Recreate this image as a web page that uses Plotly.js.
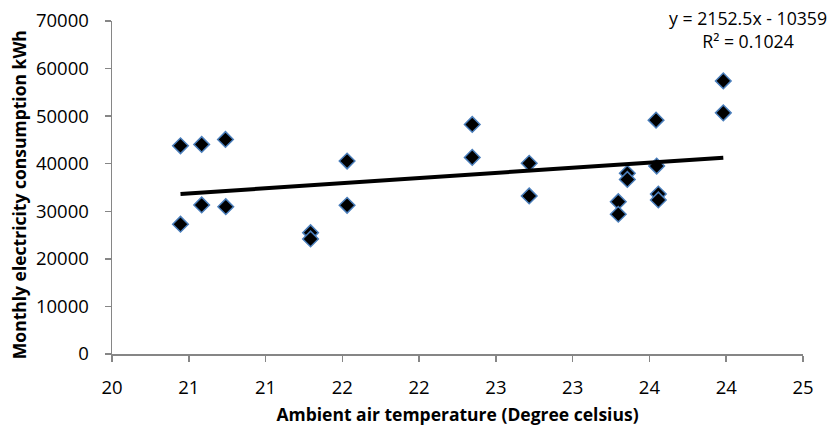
<!DOCTYPE html>
<html>
<head>
<meta charset="utf-8">
<script src="https://cdn.plot.ly/plotly-3.0.1.min.js"></script>
<style>html,body{margin:0;padding:0;background:#fff;}#chart{width:833px;height:432px;}</style>
</head>
<body>
<div id="chart"></div>
<script>
// Ambient air temperature (°C)
const temperature = [20.446, 20.584, 20.739, 21.531, 20.446, 20.584, 20.741, 21.293, 21.293, 21.531,
  22.346, 22.346, 22.717, 22.717, 23.356, 23.356, 23.297, 23.297, 23.543, 23.547, 23.558, 23.558, 23.981, 23.981];
// Monthly electricity consumption (kWh)
const consumption = [43770, 44060, 45110, 40560, 27280, 31330, 30970, 25510, 24190, 31260,
  48260, 41330, 40080, 33220, 37980, 36700, 32020, 29380, 49160, 39510, 33630, 32380, 57410, 50690];
// Trendline coefficients as shown in the chart
const slope = 2152.5;
const intercept = -10359;
const rSquared = 0.1024;
const xTickVals = [20, 20.5, 21, 21.5, 22, 22.5, 23, 23.5, 24, 24.5];
const xTickText = ['20', '21', '21', '22', '22', '23', '23', '24', '24', '25'];
const xTitle = 'Ambient air temperature (Degree celsius)';
const yTitle = 'Monthly electricity consumption kWh';

const xMin = Math.min(...temperature), xMax = Math.max(...temperature);
const trendX = [xMin, xMax];
const trendY = trendX.map(x => slope * x + intercept);

const font = "Open Sans, Noto Sans, sans-serif";
const axisColor = '#868686';

Plotly.newPlot('chart', [
  {
    x: temperature, y: consumption, type: 'scatter', mode: 'markers',
    marker: {symbol: 'diamond', size: 12, color: '#000000', line: {color: '#4a7ebb', width: 1.5}},
    showlegend: false, hoverinfo: 'x+y'
  },
  {
    x: trendX, y: trendY, type: 'scatter', mode: 'lines',
    line: {color: '#000000', width: 4}, showlegend: false
  }
], {
  width: 833, height: 432,
  margin: {l: 112.3, r: 30, t: 20.7, b: 77.7},
  paper_bgcolor: '#ffffff', plot_bgcolor: '#ffffff',
  font: {family: font, size: 18, color: '#000000'},
  xaxis: {
    range: [20, 24.5], tickvals: xTickVals, ticktext: xTickText,
    showgrid: false, zeroline: false, showline: true, linecolor: axisColor, linewidth: 1.5,
    ticks: 'outside', ticklen: 6, tickcolor: axisColor, tickwidth: 1.5, ticklabelstandoff: 10,
    tickfont: {family: font, size: 18.5}, fixedrange: true,
    title: {text: xTitle, font: {family: font, size: 17.5, weight: 'bold'}, standoff: 11}
  },
  yaxis: {
    range: [0, 70000], dtick: 10000, tickformat: 'd',
    showgrid: false, zeroline: false, showline: true, linecolor: axisColor, linewidth: 1.5,
    ticks: 'outside', ticklen: 6, tickcolor: axisColor, tickwidth: 1.5, ticklabelstandoff: 12,
    tickfont: {family: font, size: 18.5}, fixedrange: true
  },
  annotations: [{
    xref: 'paper', yref: 'paper', x: 0.92, y: 0.974, xanchor: 'center', yanchor: 'middle',
    text: 'y = ' + slope + 'x - ' + Math.abs(intercept) + '<br>R² = ' + rSquared,
    showarrow: false, align: 'center', font: {family: font, size: 17.7, color: '#000000'}
  }, {
    xref: 'paper', yref: 'paper', x: -0.1336, y: 0.479, xanchor: 'center', yanchor: 'middle',
    text: yTitle, textangle: -90, showarrow: false,
    font: {family: font, size: 17.5, weight: 'bold', color: '#000000'}
  }]
}, {displayModeBar: false, staticPlot: true});
</script>
</body>
</html>
